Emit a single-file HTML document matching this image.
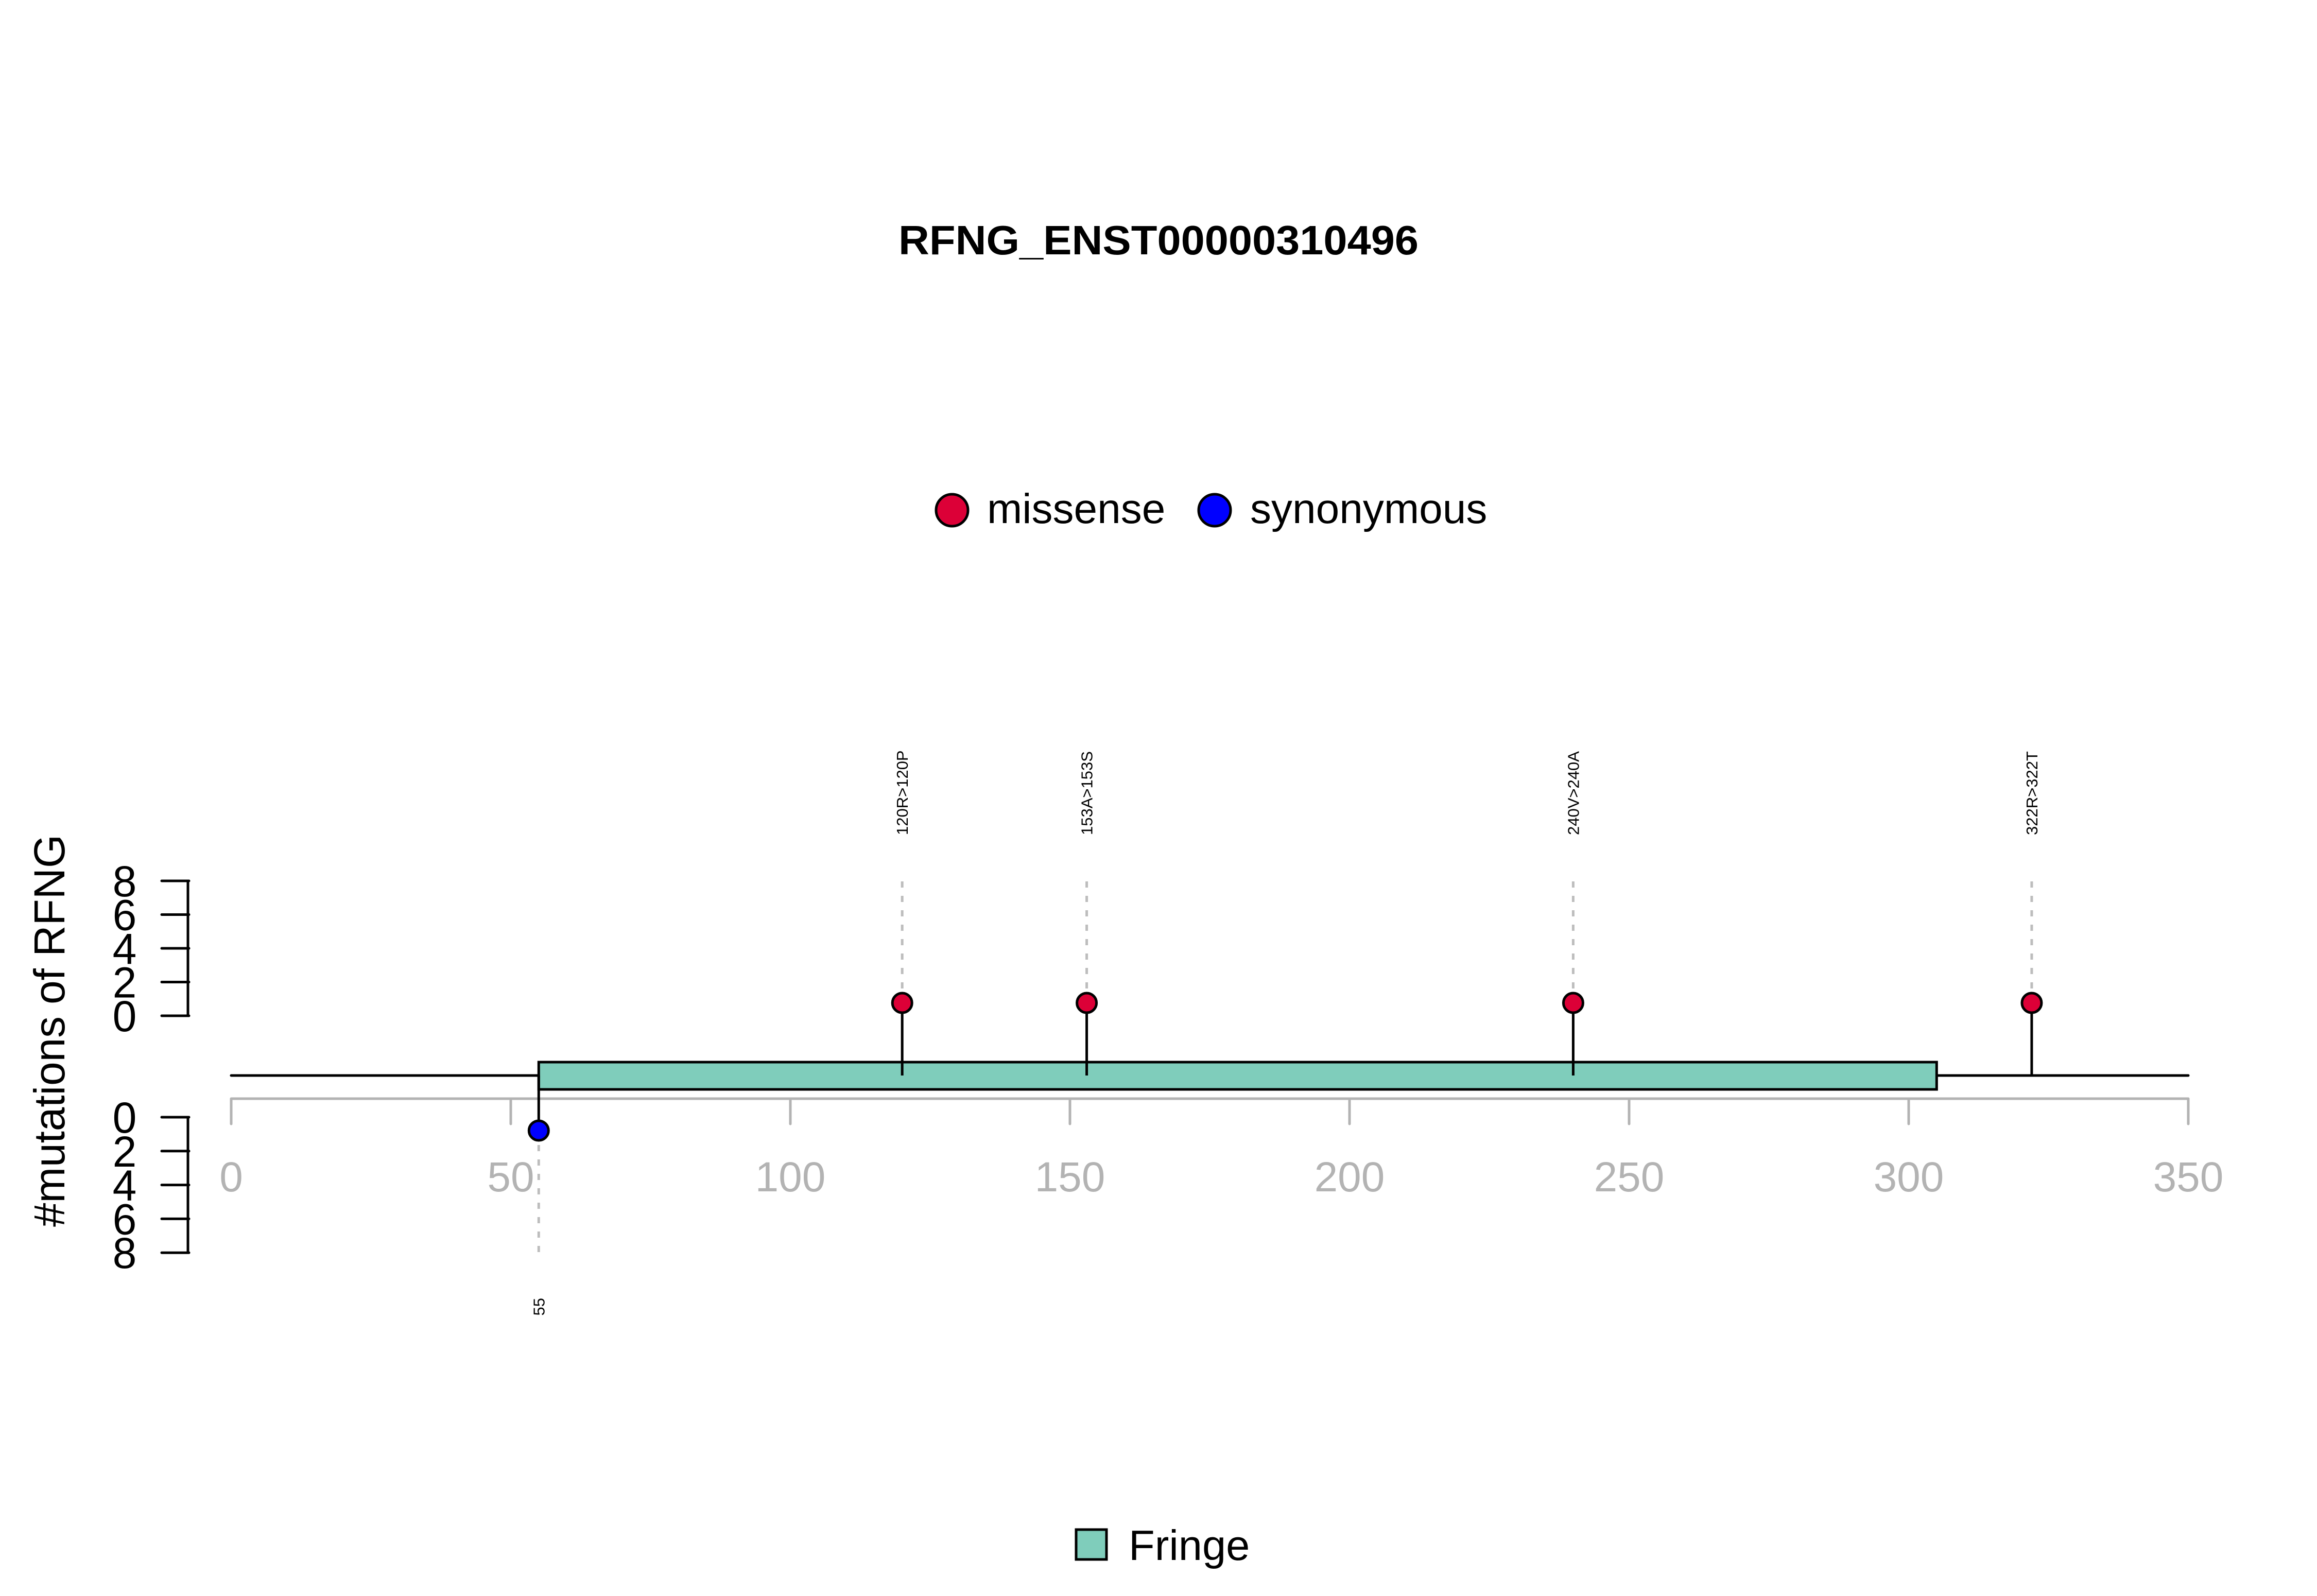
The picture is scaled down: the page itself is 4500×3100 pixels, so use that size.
<!DOCTYPE html>
<html><head><meta charset="utf-8"><style>
html,body{margin:0;padding:0;background:#fff;}
svg{display:block;font-family:"Liberation Sans",Arial,sans-serif;}
</style></head><body>
<svg id="chart" width="4500" height="3100" viewBox="0 0 4500 3100" xmlns="http://www.w3.org/2000/svg">
<rect width="4500" height="3100" fill="#fff"/>
<text x="2250" y="494" text-anchor="middle" font-size="80" font-weight="bold" textLength="1010" lengthAdjust="spacingAndGlyphs">RFNG_ENST00000310496</text>
<g>
<circle cx="1849" cy="991" r="31" fill="#DC0037" stroke="#000" stroke-width="5"/>
<text x="1917" y="1016" font-size="82">missense</text>
<circle cx="2359" cy="991" r="31" fill="#0000FF" stroke="#000" stroke-width="5"/>
<text x="2428" y="1016" font-size="82">synonymous</text>
</g>
<text transform="translate(125,2002) rotate(-90)" text-anchor="middle" font-size="84" textLength="762" lengthAdjust="spacingAndGlyphs">#mutations of RFNG</text>
<g id="marks"></g>
<g>
<rect x="2090" y="2971" width="59" height="58" fill="#7FCDBB" stroke="#000" stroke-width="5"/>
<text x="2192" y="3030" font-size="83">Fringe</text>
</g>
</svg>
<script>
const xTicks = [0, 50, 100, 150, 200, 250, 300, 350];
const yTicks = [0, 2, 4, 6, 8];
const proteinLength = [350];
const domainNames = ["Fringe"];
const domainStart = [55];
const domainEnd = [305];
const mutPositions = [120, 153, 240, 322, 55];
const mutLabels = ["120R>120P", "153A>153S", "240V>240A", "322R>322T", "55"];
const mutCounts = [1, 1, 1, 1, 1];
const mutTypes = ["missense", "missense", "missense", "missense", "synonymous"];

const NS = "http://www.w3.org/2000/svg";
const g = document.getElementById("marks");
function x(v){ return 449 + v * 10.86; }
const backbone = 2089;
function yUp(v){ return 1973 - v * 32.75; }
function yDown(v){ return 2170 + v * 32.9; }
function mk(tag, attrs){ const e = document.createElementNS(NS, tag); for (const k in attrs) e.setAttribute(k, attrs[k]); g.appendChild(e); return e; }

let e = mk("line", {x1:365, y1:yUp(0), x2:365, y2:yUp(8), stroke:"#000", "stroke-width":5});


yTicks.forEach(t => {
  let l = mk("line", {x1:314, y1:yUp(t), x2:367, y2:yUp(t), stroke:"#000", "stroke-width":5, "stroke-linecap":"round"});
  
  
  let tx = mk("text", {x:242, y:yUp(t)+30, "text-anchor":"middle", "font-size":84});
  tx.textContent = t;
  
  
});
e = mk("line", {x1:365, y1:yDown(0), x2:365, y2:yDown(8), stroke:"#000", "stroke-width":5});


yTicks.forEach(t => {
  let l = mk("line", {x1:314, y1:yDown(t), x2:367, y2:yDown(t), stroke:"#000", "stroke-width":5, "stroke-linecap":"round"});
  
  
  let tx = mk("text", {x:242, y:yDown(t)+30, "text-anchor":"middle", "font-size":84});
  tx.textContent = t;
  
  
});
e = mk("line", {x1:x(xTicks[0]), y1:2134, x2:x(xTicks[xTicks.length-1]), y2:2134, stroke:"#b3b3b3", "stroke-width":5});


xTicks.forEach(t => {
  let l = mk("line", {x1:x(t), y1:2134, x2:x(t), y2:2183, stroke:"#b3b3b3", "stroke-width":5, "stroke-linecap":"round"});
  
  
  let tx = mk("text", {x:x(t), y:2314, "text-anchor":"middle", "font-size":82, fill:"#b3b3b3"});
  tx.textContent = t;
  
  
});
e = mk("line", {x1:x(0), y1:backbone, x2:x(proteinLength[0]), y2:backbone, stroke:"#000", "stroke-width":5, "stroke-linecap":"round"});


domainNames.forEach((n, i) => {
  let r = mk("rect", {x:x(domainStart[i]), y:2063, width:x(domainEnd[i])-x(domainStart[i]), height:53, fill:"#7FCDBB", stroke:"#000", "stroke-width":5});
  
  
});
mutPositions.forEach((p, i) => {
  const up = mutTypes[i] === "missense";
  const cx = x(p);
  const cy = up ? backbone - 141 * mutCounts[i] : backbone + 107 * mutCounts[i];
  const dashEnd = up ? cy - 248 : cy + 248;
  let d = mk("line", {x1:cx, y1:cy, x2:cx, y2:dashEnd, stroke:"#bdbdbd", "stroke-width":5, "stroke-dasharray":"12 16"});
  
  
  let s = mk("line", {x1:cx, y1:backbone, x2:cx, y2:cy, stroke:"#000", "stroke-width":5});
  
  
  let c = mk("circle", {cx:cx, cy:cy, r:19, fill: up ? "#DC0037" : "#0000FF", stroke:"#000", "stroke-width":5});
  
  
  const ly = up ? cy - 326 : cy + 325;
  let t = mk("text", {transform:"translate(" + (cx + 11) + "," + ly + ") rotate(-90)", "text-anchor": up ? "start" : "end", "font-size":31});
  t.textContent = mutLabels[i];
  
  
});
</script>
</body></html>
